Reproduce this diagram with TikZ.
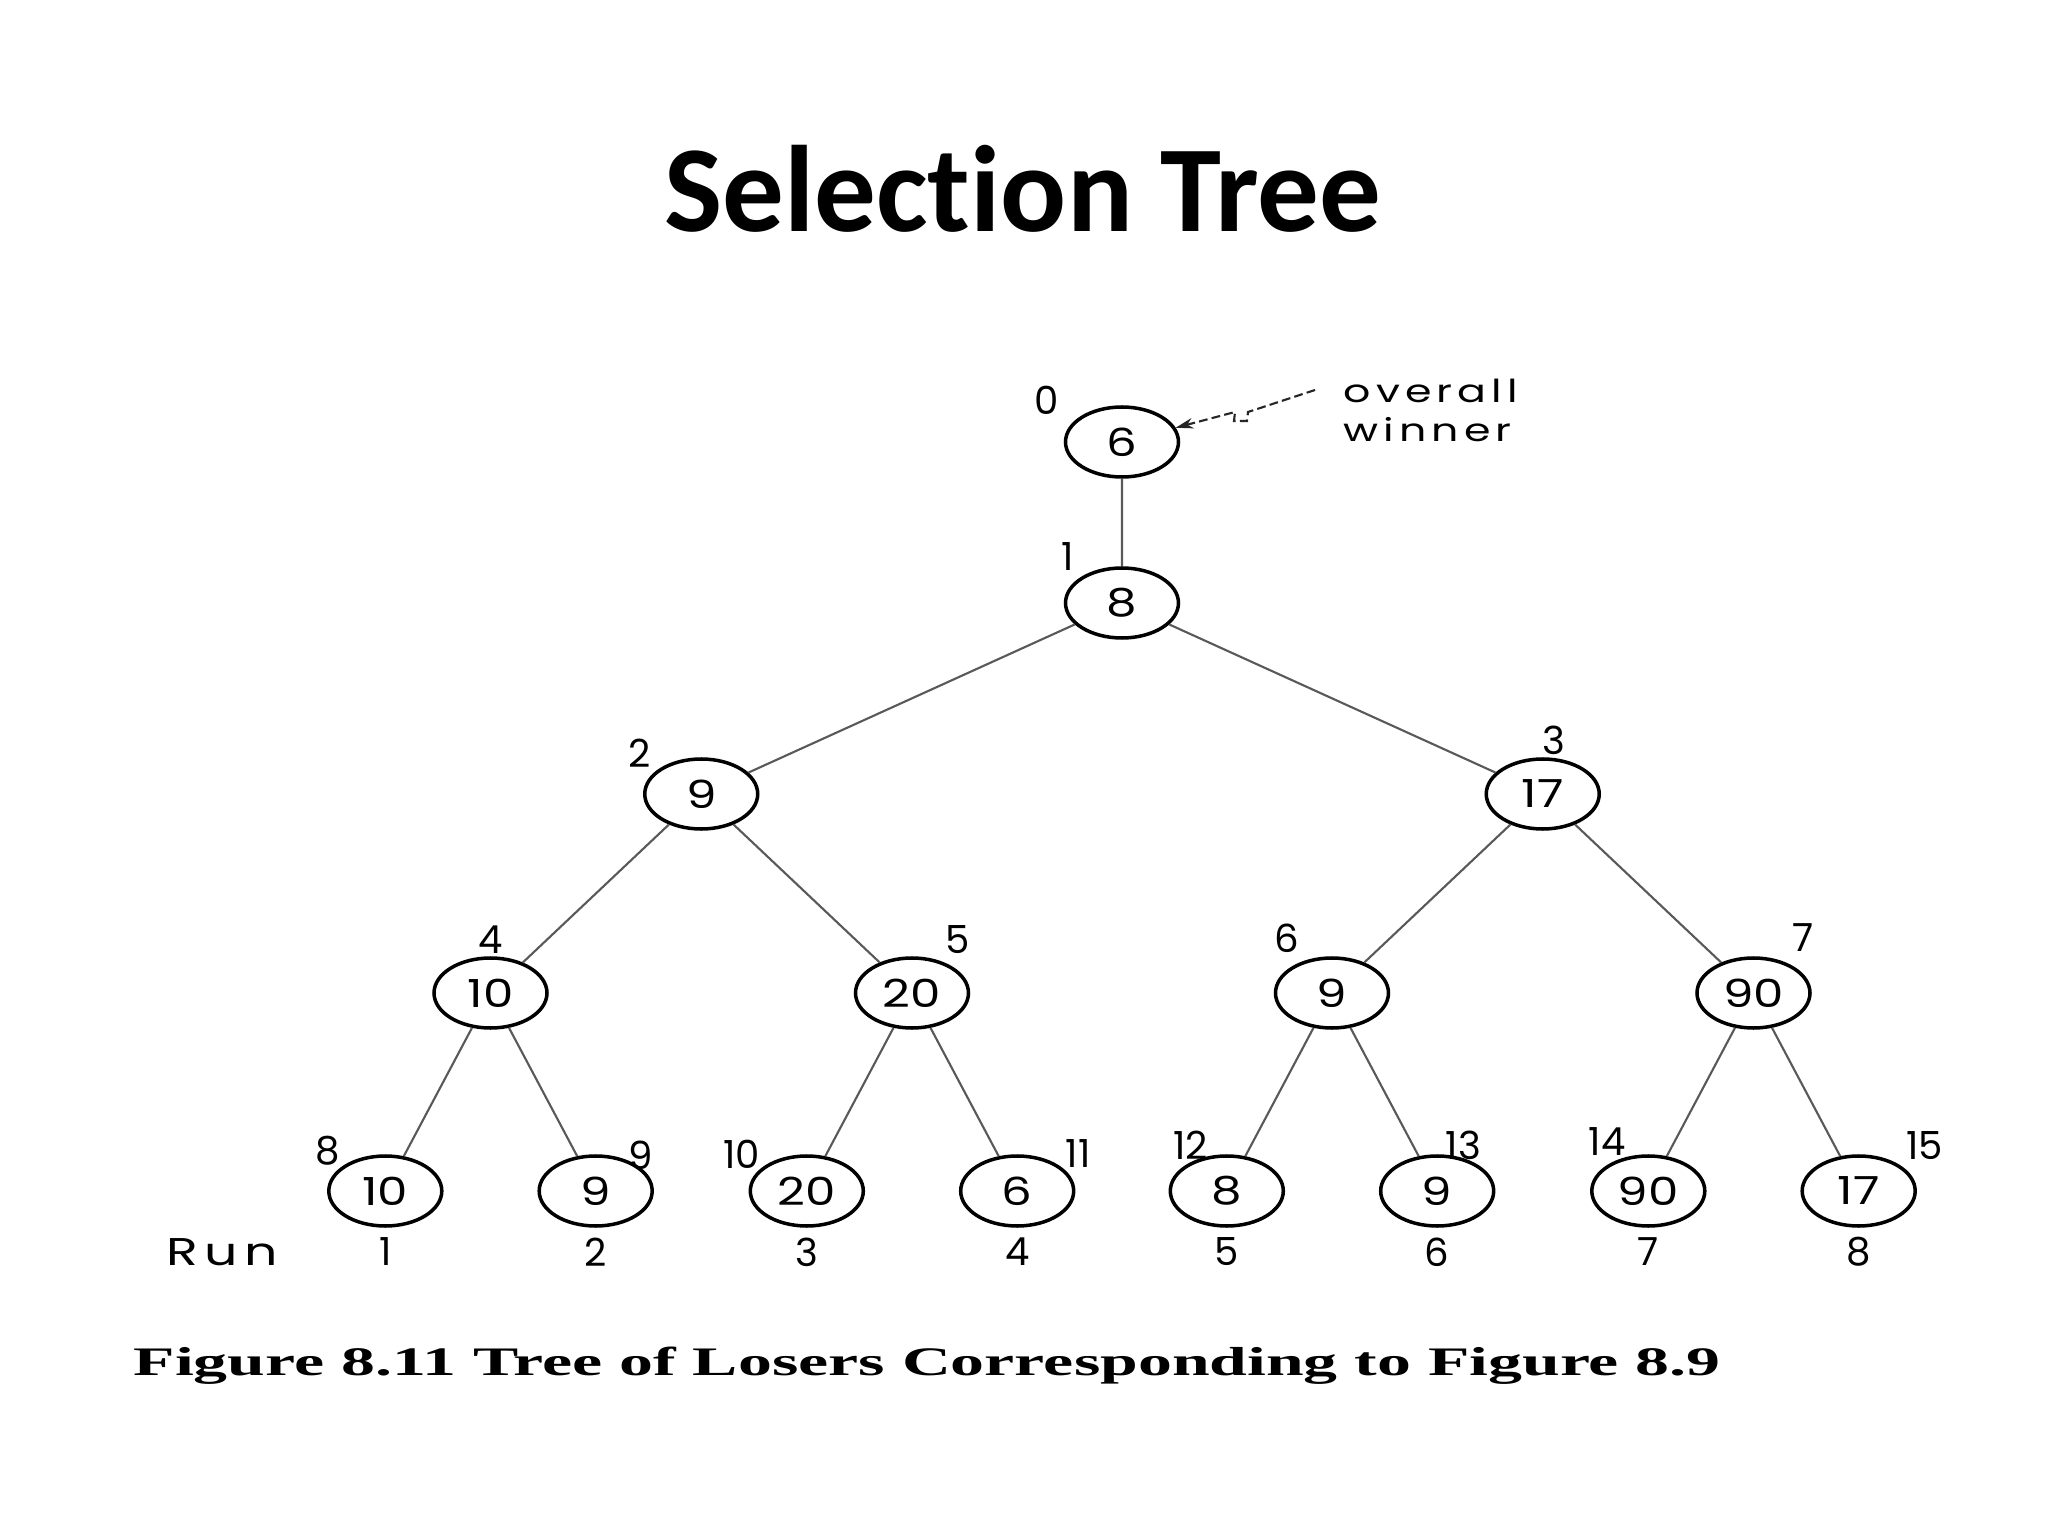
\documentclass[tikz,border=0pt]{standalone}
\usepackage{fontspec}
\usetikzlibrary{shapes.geometric,arrows.meta}
\newfontfamily\titlefont[Ligatures=NoCommon]{Carlito}
\newfontfamily\leroyfont{Poppins}
\newfontfamily\leroynum[FakeStretch=1.25]{Poppins}
\newfontfamily\leroywide[LetterSpace=16,FakeStretch=1.35]{Poppins}
\newfontfamily\capfont{Liberation Serif}

\begin{document}
\begin{tikzpicture}[
        level 1/.style={level distance=1.61cm},
        level 2/.style={level distance=1.91cm,sibling distance=8.415cm},
        level 3/.style={level distance=1.99cm,sibling distance=4.215cm},
        level 4/.style={level distance=1.98cm,sibling distance=2.104cm},
        edge from parent/.style={draw,black!65,line width=0.6pt}
    ]
    \tikzset{
        losernode/.style = {ellipse, draw=black, line width=1pt, minimum width=1.13cm, minimum height=0.70cm, inner sep=0pt, font=\leroynum\fontsize{11}{11}\selectfont},
        idx/.style = {inner sep=0pt, font=\leroyfont\fontsize{11}{11}\selectfont},
        winnertxt/.style = {anchor=base west, inner sep=0pt, font=\leroywide\fontsize{9}{9}\selectfont},
    }
    \fill[white] (0,0) rectangle (20.48,-15.36);
    \useasboundingbox (0,0) rectangle (20.48,-15.36);

    \node[anchor=base, font=\titlefont\bfseries\fontsize{35}{35}\selectfont] (title) at (10.23,-2.32) {Selection Tree};

    \node[losernode] (n0) at (11.22,-4.42) {6}
    child { node[losernode] (n1) {8}
        child { node[losernode] (n2) {9}
            child { node[losernode] (n4) {10}
                child { node[losernode] (n8) {10} }
                child { node[losernode] (n9) {9} }
            }
            child { node[losernode] (n5) {20}
                child { node[losernode] (n10) {20} }
                child { node[losernode] (n11) {6} }
            }
        }
        child { node[losernode] (n3) {17}
            child { node[losernode] (n6) {9}
                child { node[losernode] (n12) {8} }
                child { node[losernode] (n13) {9} }
            }
            child { node[losernode] (n7) {90}
                child { node[losernode] (n14) {90} }
                child { node[losernode] (n15) {17} }
            }
        }
    }
    ;

    % position numbers
    \foreach \nd/\dx/\dy in {0/-0.75/0.42, 1/-0.54/0.46, 2/-0.62/0.41, 3/0.11/0.54,
        4/0/0.53, 5/0.46/0.53, 6/-0.45/0.55, 7/0.50/0.55,
        8/-0.58/0.40, 9/0.45/0.36, 10/-0.65/0.37, 11/0.61/0.37,
        12/-0.36/0.46, 13/0.26/0.46, 14/-0.41/0.49, 15/0.66/0.45}
        \node[idx] (i\nd) at ([shift={(\dx,\dy)}]n\nd) {\nd};

    % runs
    \node[idx] (run) at (2.22,-12.52) {\leroywide Run};
    \foreach \lf/\r in {8/1,9/2,10/3,11/4,12/5,13/6,14/7,15/8}
        \node[idx] (run\r) at ([yshift=-0.61cm]n\lf) {\r};

    \node[winnertxt] (overall) at (13.43,-4.03) {overall};
    \node[winnertxt] (winner) at (13.43,-4.42) {winner};
    \coordinate (aw) at (13.15,-3.90);
    \draw[black!85, line width=0.6pt, dash pattern=on 2.5pt off 1.2pt, -{Stealth[length=5pt,width=3pt]}]
        (aw) -- (12.48,-4.12) -- (12.47,-4.21) -- (12.34,-4.21) -- (12.35,-4.12) -- (n0);

    \node[anchor=base west, inner sep=0pt] (caption) at (1.33,-13.75)
        {\resizebox{15.87cm}{0.285cm}{\capfont\bfseries Figure 8.11 Tree of Losers Corresponding to Figure 8.9}};
\end{tikzpicture}
\end{document}
